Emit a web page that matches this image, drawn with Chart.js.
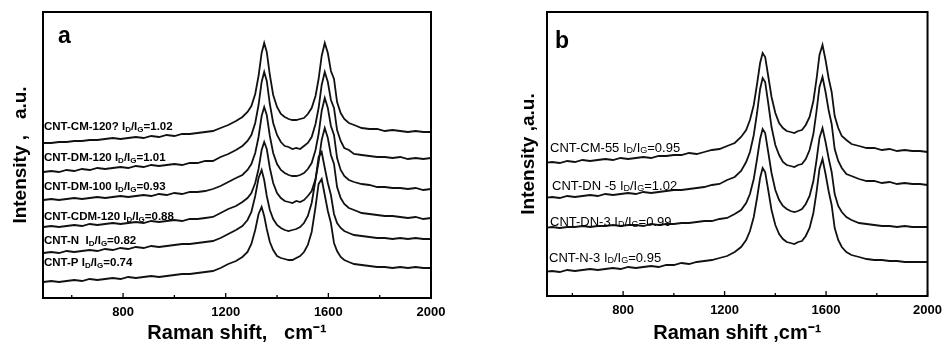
<!DOCTYPE html>
<html>
<head>
<meta charset="utf-8">
<script src="https://cdn.jsdelivr.net/npm/chart.js@4.4.1/dist/chart.umd.min.js"></script>
<style>
  html, body { margin: 0; padding: 0; background: #fff; }
  #wrap { position: relative; width: 949px; height: 345px; }
  .panel { position: absolute; top: 0; height: 345px; }
  #panelA { left: 0; width: 470px; }
  #panelB { left: 470px; width: 479px; }
</style>
</head>
<body>
<div id="wrap">
  <div class="panel" id="panelA"><canvas id="chartA" width="470" height="345"></canvas></div>
  <div class="panel" id="panelB"><canvas id="chartB" width="479" height="345"></canvas></div>
</div>
<script>
// Raman shift (cm-1), shared by every spectrum
const ramanShift = [
  490, 520, 550, 580, 610, 640, 670, 700, 730, 760,
  790, 820, 850, 880, 910, 940, 970, 1000, 1030, 1060,
  1090, 1120, 1150, 1180, 1210, 1240, 1265, 1285, 1300, 1315,
  1328, 1340, 1350, 1360, 1372, 1385, 1400, 1415, 1430, 1445,
  1460, 1475, 1490, 1505, 1520, 1535, 1550, 1562, 1574, 1586,
  1598, 1610, 1622, 1634, 1648, 1662, 1680, 1700, 1730, 1760,
  1790, 1820, 1850, 1880, 1910, 1940, 1970, 2000
];
const tickValues = [600, 800, 1000, 1200, 1400, 1600, 1800, 2000];

// panel a (offset intensity, a.u.)
const cntCM120 = [
  155, 155, 156, 156, 157, 157, 158, 158, 159, 160,
  159, 160, 161, 160, 162, 161, 163, 162, 164, 164,
  165, 166, 167, 170, 173, 177, 181, 186, 192, 204,
  222, 245, 255, 246, 223, 203, 191, 184, 181, 179,
  178, 178, 179, 180, 184, 190, 202, 219, 242, 255,
  245, 227, 219, 196, 185, 179, 175, 173, 170, 169,
  169, 167, 168, 167, 166, 167, 166, 166
];
const cntDM120 = [
  126, 127, 126, 128, 127, 129, 128, 130, 129, 130,
  131, 130, 132, 131, 133, 132, 133, 134, 133, 135,
  135, 137, 137, 141, 144, 148, 152, 157, 163, 175,
  193, 216, 226, 217, 194, 175, 163, 156, 152, 151,
  149, 150, 149, 152, 155, 161, 174, 190, 213, 226,
  216, 198, 190, 168, 157, 150, 148, 144, 143, 142,
  141, 141, 140, 141, 139, 140, 139, 140
];
const cntDM100 = [
  98, 99, 98, 99, 100, 99, 100, 101, 100, 101,
  102, 101, 102, 103, 102, 104, 103, 105, 104, 106,
  106, 107, 109, 112, 116, 120, 123, 128, 134, 145,
  161, 182, 191, 183, 162, 145, 134, 128, 125, 123,
  122, 122, 123, 125, 129, 135, 148, 164, 187, 200,
  190, 172, 163, 140, 128, 122, 118, 116, 114, 113,
  111, 111, 110, 110, 109, 110, 108, 109
];
const cntCDM120 = [
  71, 72, 71, 72, 73, 72, 74, 73, 74, 75,
  74, 75, 76, 75, 77, 76, 77, 78, 77, 79,
  79, 80, 81, 85, 89, 92, 96, 100, 105, 115,
  129, 148, 156, 149, 130, 115, 105, 100, 97, 96,
  95, 97, 96, 98, 102, 107, 119, 136, 158, 170,
  160, 143, 134, 111, 100, 94, 90, 88, 85, 84,
  83, 82, 82, 81, 80, 81, 79, 80
];
const cntN = [
  45, 46, 45, 47, 46, 47, 48, 47, 49, 48,
  50, 49, 51, 50, 52, 51, 52, 53, 54, 54,
  55, 56, 57, 60, 64, 68, 72, 78, 86, 102,
  120, 128, 118, 102, 88, 79, 73, 70, 68, 67,
  68, 69, 71, 75, 82, 95, 118, 141, 146, 130,
  115, 103, 84, 75, 70, 67, 65, 63, 62, 61,
  60, 60, 59, 60, 59, 60, 59, 59
];
const cntP = [
  16, 17, 16, 17, 18, 17, 19, 18, 19, 20,
  19, 21, 20, 21, 22, 21, 22, 23, 24, 24,
  25, 26, 27, 30, 34, 37, 41, 46, 54, 68,
  84, 91, 82, 69, 56, 48, 42, 40, 39, 38,
  38, 40, 42, 46, 53, 66, 91, 114, 119, 103,
  87, 75, 55, 47, 41, 38, 36, 34, 33, 32,
  31, 31, 30, 31, 30, 31, 30, 30
];

// panel b
const cntCM55 = [
  133, 134, 133, 135, 134, 136, 135, 136, 137, 136,
  138, 137, 138, 139, 138, 140, 140, 141, 141, 143,
  142, 144, 146, 147, 150, 153, 159, 166, 176, 191,
  212, 233, 243, 239, 220, 199, 183, 173, 168, 165,
  164, 163, 165, 166, 171, 179, 195, 216, 241, 251,
  236, 218, 204, 180, 168, 160, 156, 152, 150, 148,
  148, 146, 147, 145, 146, 145, 145, 144
];
const cntDN5 = [
  98, 99, 98, 100, 99, 100, 101, 100, 102, 101,
  102, 103, 102, 104, 103, 104, 105, 106, 106, 107,
  108, 109, 111, 112, 116, 119, 125, 134, 144, 161,
  183, 207, 218, 214, 193, 169, 151, 141, 134, 131,
  130, 129, 131, 132, 137, 146, 162, 184, 209, 219,
  204, 186, 172, 147, 135, 128, 122, 120, 117, 115,
  115, 113, 114, 112, 113, 112, 112, 111
];
const cntDN3 = [
  68, 69, 68, 69, 69, 70, 69, 70, 70, 71,
  70, 71, 71, 70, 72, 71, 72, 72, 73, 73,
  74, 75, 75, 77, 78, 82, 86, 93, 102, 117,
  137, 157, 167, 163, 144, 123, 106, 96, 90, 87,
  85, 84, 85, 87, 92, 100, 115, 135, 158, 168,
  154, 138, 124, 102, 90, 84, 79, 76, 73, 72,
  71, 70, 70, 69, 70, 69, 69, 69
];
const cntN3 = [
  24, 25, 24, 26, 25, 26, 27, 26, 27, 28,
  27, 29, 28, 29, 30, 29, 31, 31, 33, 32,
  34, 35, 36, 38, 40, 44, 49, 56, 65, 79,
  98, 118, 128, 124, 106, 86, 71, 62, 57, 54,
  53, 52, 54, 55, 60, 68, 83, 103, 127, 137,
  122, 105, 91, 68, 56, 49, 44, 41, 39, 37,
  36, 36, 35, 35, 34, 34, 34, 34
];

const namesA = ['CNT-CM-120?', 'CNT-DM-120', 'CNT-DM-100', 'CNT-CDM-120', 'CNT-N ', 'CNT-P'];
const ratiosA = [1.02, 1.01, 0.93, 0.88, 0.82, 0.74];
const namesB = ['CNT-CM-55', 'CNT-DN -5', 'CNT-DN-3', 'CNT-N-3'];
const ratiosB = [0.95, 1.02, 0.99, 0.95];

const FONT = 'Arial, "Liberation Sans", sans-serif';
Chart.defaults.font.family = FONT;
Chart.defaults.color = '#000';

// "name I_D/I_G=x.xx" with small subscripts
function drawLabel(ctx, name, ratio, x, y, size, weight) {
  const main = weight + ' ' + size + 'px ' + FONT;
  const sub = weight + ' ' + Math.round(size * 0.68) + 'px ' + FONT;
  const parts = [
    [name + ' I', main, 0],
    ['D', sub, 3],
    ['/I', main, 0],
    ['G', sub, 3],
    ['=' + ratio.toFixed(2), main, 0]
  ];
  ctx.textBaseline = 'middle';
  ctx.textAlign = 'left';
  let cx = x;
  parts.forEach(([t, f, dy]) => {
    ctx.font = f;
    ctx.fillText(t, cx, y + dy);
    cx += ctx.measureText(t).width;
  });
}

const framePlugin = {
  id: 'frame',
  afterDatasetsDraw(chart, args, opts) {
    const { ctx, chartArea: a } = chart;
    const x = chart.scales.x;
    ctx.save();
    ctx.strokeStyle = '#000';
    ctx.lineWidth = 2;
    ctx.strokeRect(a.left, a.top, a.right - a.left, a.bottom - a.top);
    // inward ticks
    ctx.lineWidth = 1.3;
    x.ticks.forEach(t => {
      const px = x.getPixelForValue(t.value);
      const len = t.value % 400 === 0 ? 5 : 3;
      ctx.beginPath();
      ctx.moveTo(px, a.bottom);
      ctx.lineTo(px, a.bottom - len);
      ctx.stroke();
    });
    ctx.fillStyle = '#000';
    ctx.font = 'bold 23px ' + FONT;
    ctx.textBaseline = 'alphabetic';
    ctx.fillText(opts.letter, opts.letterX, opts.letterY);
    opts.names.forEach((n, i) => {
      const lx = Array.isArray(opts.labelX) ? opts.labelX[i] : opts.labelX;
      drawLabel(ctx, n, opts.ratios[i], lx, opts.labelY[i], opts.size, opts.weight);
    });
    ctx.restore();
  }
};

function makeChart(id, series, cfg) {
  return new Chart(document.getElementById(id), {
    type: 'line',
    data: {
      datasets: series.map(s => ({
        data: ramanShift.map((v, i) => ({ x: v, y: s[i] })),
        borderColor: '#111',
        borderWidth: 1.8,
        pointRadius: 0,
        tension: 0,
        fill: false
      }))
    },
    options: {
      responsive: false,
      animation: false,
      layout: { padding: cfg.padding },
      plugins: {
        legend: { display: false },
        tooltip: { enabled: false },
        frame: cfg.frame
      },
      scales: {
        x: {
          type: 'linear',
          min: cfg.xMin,
          max: 2000,
          afterBuildTicks: s => { s.ticks = tickValues.map(v => ({ value: v })); },
          afterFit: s => { s.height = cfg.xHeight; },
          grid: { display: false, drawTicks: false },
          border: { display: false },
          ticks: {
            autoSkip: false,
            maxRotation: 0,
            padding: 7,
            color: '#000',
            font: { size: 13, weight: 'bold' },
            callback: v => (v % 400 === 0 ? String(v) : '')
          },
          title: {
            display: true,
            text: cfg.xTitle,
            color: '#000',
            font: { size: 20, weight: 'bold' },
            padding: { top: 0, bottom: 0 }
          }
        },
        y: {
          min: 0,
          max: cfg.yMax,
          afterFit: s => { s.width = cfg.yWidth; },
          grid: { display: false, drawTicks: false },
          border: { display: false },
          ticks: { display: false },
          title: {
            display: true,
            text: cfg.yTitle,
            color: '#000',
            font: { size: 19, weight: 'bold' },
            padding: { top: cfg.yTitlePad, bottom: 0 }
          }
        }
      }
    },
    plugins: [framePlugin]
  });
}

makeChart('chartA', [cntCM120, cntDM120, cntDM100, cntCDM120, cntN, cntP], {
  padding: { left: 0, right: 39, top: 12, bottom: 0 },
  xMin: 488, xHeight: 47, yMax: 286, yWidth: 43, yTitlePad: 9,
  xTitle: 'Raman shift,   cm\u207B\u00B9',
  yTitle: 'Intensity ,   a.u.',
  frame: {
    letter: 'a', letterX: 58, letterY: 43,
    names: namesA, ratios: ratiosA,
    labelX: 44, labelY: [127, 158, 187, 217, 241, 263],
    size: 11.5, weight: 'bold'
  }
});

makeChart('chartB', [cntCM55, cntDN5, cntDN3, cntN3], {
  padding: { left: 0, right: 16, top: 12, bottom: 0 },
  xMin: 500, xHeight: 49, yMax: 284, yWidth: 77, yTitlePad: 47,
  xTitle: 'Raman shift ,cm\u207B\u00B9',
  yTitle: 'Intensity ,a.u.',
  frame: {
    letter: 'b', letterX: 85, letterY: 48,
    names: namesB, ratios: ratiosB,
    labelX: [80, 82, 80, 79], labelY: [148, 186, 222, 258],
    size: 13, weight: 'normal'
  }
});
</script>
</body>
</html>
